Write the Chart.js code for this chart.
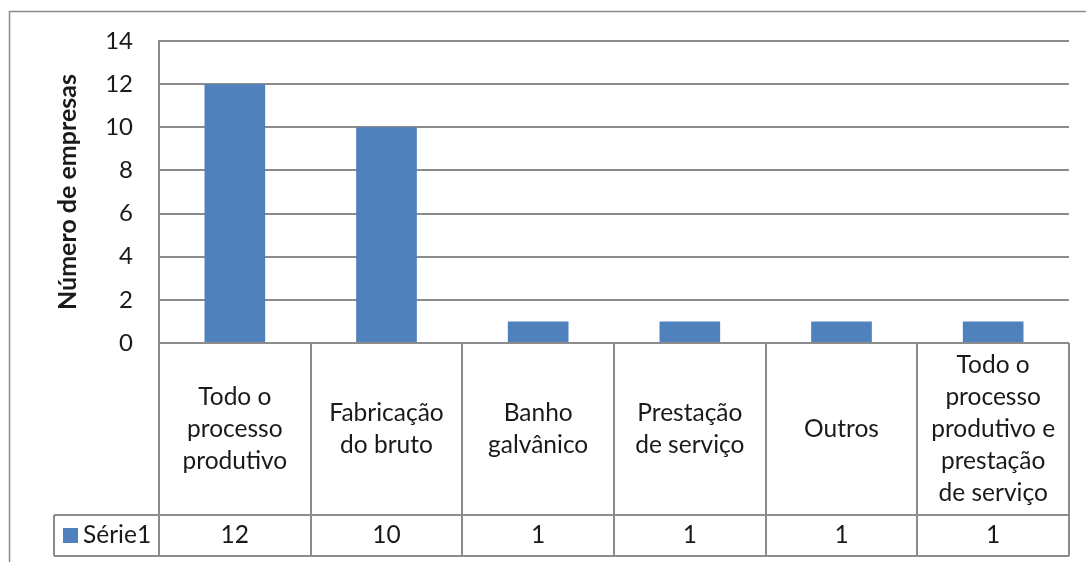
<!DOCTYPE html>
<html>
<head>
<meta charset="utf-8">
<script src="https://cdn.jsdelivr.net/npm/chart.js@4.4.1/dist/chart.umd.min.js"></script>
<style>
  html, body { margin: 0; padding: 0; background: #ffffff; }
  #wrap { position: relative; width: 1086px; height: 562px; }
</style>
</head>
<body>
<div id="wrap"><canvas id="c" width="1086" height="562"></canvas></div>
<script>
// ---- data ----
const categories = [
  ["Todo o", "processo", "produtivo"],
  ["Fabricação", "do bruto"],
  ["Banho", "galvânico"],
  ["Prestação", "de serviço"],
  ["Outros"],
  ["Todo o", "processo", "produtivo e", "prestação", "de serviço"]
];
const seriesName = "Série1";
const seriesValues = [12, 10, 1, 1, 1, 1];
const yAxisTitle = "Número de empresas";
const yMin = 0, yMax = 14, yStep = 2;

// ---- styles ----
const FONT = "Lato, 'Open Sans', sans-serif";
const BAR = "#4F81BD";
const GRID = "#8c8c8c";
const TEXT = "#1a1a1a";

const tablePlugin = {
  id: 'dataTable',
  beforeDraw(chart) {
    const ctx = chart.ctx;
    ctx.save();
    ctx.strokeStyle = GRID;
    ctx.lineWidth = 1.5;
    ctx.strokeRect(9.5, 11.5, 1200, 700);
    ctx.restore();
  },
  afterDraw(chart) {
    const ctx = chart.ctx;
    const x = chart.scales.x, y = chart.scales.y;
    const area = chart.chartArea;
    const n = categories.length;
    const cw = (area.right - area.left) / n;
    const top = y.getPixelForValue(0);
    const rowSplit = top + 172;
    const bottom = rowSplit + 41;
    const legendLeft = 54;
    ctx.save();
    ctx.strokeStyle = GRID;
    ctx.lineWidth = 2;
    ctx.beginPath();
    for (let i = 0; i <= n; i++) {
      const px = Math.round(i < n ? x.getPixelForValue(i) - cw / 2 : x.getPixelForValue(n - 1) + cw / 2);
      ctx.moveTo(px, top); ctx.lineTo(px, bottom);
    }
    ctx.moveTo(area.left, top); ctx.lineTo(area.right, top);
    ctx.moveTo(legendLeft, rowSplit); ctx.lineTo(area.right, rowSplit);
    ctx.moveTo(legendLeft, bottom); ctx.lineTo(area.right, bottom);
    ctx.moveTo(legendLeft, rowSplit); ctx.lineTo(legendLeft, bottom);
    ctx.stroke();

    ctx.fillStyle = TEXT;
    ctx.font = "24.5px " + FONT;
    ctx.textAlign = "center";
    ctx.textBaseline = "middle";
    const lh = 32;
    const midCat = (top + rowSplit) / 2;
    const midVal = (rowSplit + bottom) / 2;
    categories.forEach((lines, i) => {
      const cx = x.getPixelForValue(i);
      const y0 = midCat - (lines.length - 1) * lh / 2;
      lines.forEach((t, k) => ctx.fillText(t, cx, y0 + k * lh));
      ctx.fillText(String(seriesValues[i]), cx, midVal);
    });
    ctx.fillStyle = BAR;
    ctx.fillRect(63, midVal - 7.5, 15, 15);
    ctx.fillStyle = TEXT;
    ctx.textAlign = "left";
    ctx.fillText(seriesName, 83, midVal);
    ctx.restore();
  }
};

new Chart(document.getElementById('c'), {
  type: 'bar',
  data: {
    labels: categories,
    datasets: [{
      label: seriesName,
      data: seriesValues,
      backgroundColor: BAR,
      borderWidth: 0,
      barPercentage: 0.4,
      categoryPercentage: 1.0
    }]
  },
  options: {
    responsive: false,
    animation: false,
    devicePixelRatio: 1,
    layout: { padding: { top: 41, right: 17, bottom: 219, left: 0 } },
    plugins: { legend: { display: false }, tooltip: { enabled: false } },
    scales: {
      x: { display: false, offset: true },
      y: {
        min: yMin, max: yMax,
        ticks: { stepSize: yStep, padding: 26, color: TEXT, font: { family: FONT, size: 24 } },
        grid: { color: GRID, lineWidth: 2, drawTicks: false },
        border: { display: true, color: GRID, width: 2 },
        title: { display: true, text: yAxisTitle, color: TEXT, padding: { top: 53, bottom: 0 }, font: { family: FONT, size: 25, weight: 'bold' } },
        afterFit(s) { s.width = 159; }
      }
    }
  },
  plugins: [tablePlugin]
});
</script>
</body>
</html>
